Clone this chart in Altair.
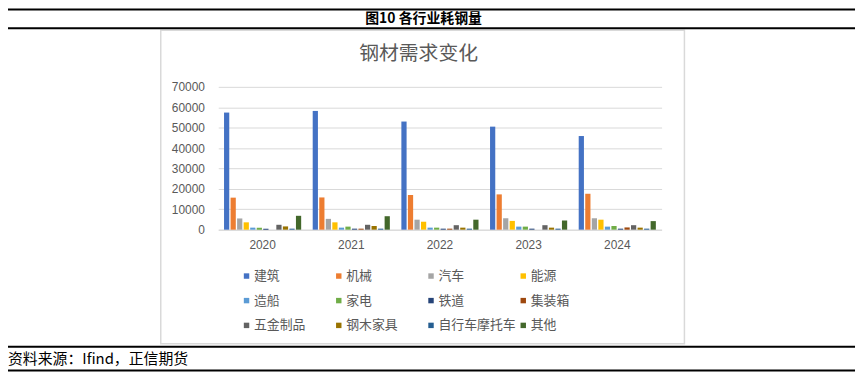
import altair as alt
import pandas as pd

years = ["2020", "2021", "2022", "2023", "2024"]
series = ["建筑", "机械", "汽车", "能源", "造船", "家电", "铁道", "集装箱",
          "五金制品", "钢木家具", "自行车摩托车", "其他"]
colors = ["#4472C4", "#ED7D31", "#A5A5A5", "#FFC000", "#5B9BD5", "#70AD47",
          "#264478", "#9E480E", "#636363", "#997300", "#255E91", "#43682B"]

v_jianzhu = [57400, 58200, 53000, 50500, 45900]
v_jixie = [15700, 15800, 17000, 17300, 17600]
v_qiche = [5500, 5300, 4900, 5600, 5600]
v_nengyuan = [3600, 3600, 3900, 4300, 4900]
v_zaochuan = [1000, 1000, 1000, 1500, 1500]
v_jiadian = [1000, 1500, 1000, 1500, 1800]
v_tiedao = [500, 500, 500, 500, 500]
v_jizhuangxiang = [0, 500, 500, 0, 1100]
v_wujin = [2400, 2400, 2200, 2200, 2200]
v_gangmu = [1600, 1800, 1000, 1000, 1000]
v_zixingche = [500, 500, 500, 500, 500]
v_qita = [6800, 6600, 4900, 4500, 4200]

all_vals = [v_jianzhu, v_jixie, v_qiche, v_nengyuan, v_zaochuan, v_jiadian,
            v_tiedao, v_jizhuangxiang, v_wujin, v_gangmu, v_zixingche, v_qita]

rows = []
for s, vals in zip(series, all_vals):
    for y, v in zip(years, vals):
        rows.append({"year": y, "series": s, "value": v})
df = pd.DataFrame(rows)

chart_title = "钢材需求变化"
header = "图10 各行业耗钢量"
source = "资料来源：Ifind，正信期货"

W, H = 447, 144
one = alt.Data(values=[{}])

box = alt.Chart(one).mark_rect(fillOpacity=0, stroke="#D9D9D9", strokeWidth=1.5).encode(
    x=alt.value(-58), x2=alt.value(470), y=alt.value(-57), y2=alt.value(259))

bars = alt.Chart(df).mark_bar().encode(
    x=alt.X("year:N", sort=years, title=None,
            scale=alt.Scale(paddingInner=0.13, paddingOuter=0.065),
            axis=alt.Axis(labelAngle=0, ticks=False, domainColor="#D9D9D9",
                          labelPadding=10, labelFontSize=12, labelColor="#595959",
                          labelFont="Liberation Sans")),
    xOffset=alt.XOffset("series:N", sort=series, scale=alt.Scale(paddingInner=0.2)),
    y=alt.Y("value:Q", title=None,
            scale=alt.Scale(domain=[0, 70000], nice=False),
            axis=alt.Axis(values=list(range(0, 70001, 10000)), format="d",
                          domain=False, ticks=False, gridColor="#D9D9D9",
                          labelPadding=14, labelFontSize=12, labelColor="#595959",
                          labelFont="Liberation Sans")),
    color=alt.Color("series:N", sort=series, title=None,
                    scale=alt.Scale(domain=series, range=colors),
                    legend=alt.Legend(orient="none", legendX=22, legendY=184,
                                      direction="horizontal",
                                      columns=4, gridAlign="all", columnPadding=0,
                                      rowPadding=11, symbolType="square", symbolSize=30,
                                      symbolStrokeWidth=0, labelOffset=1,
                                      labelFontSize=13, labelColor="#595959",
                                      labelFont="Noto Sans CJK SC", labelLimit=84,
                                      padding=0)),
)

title_txt = alt.Chart(one).mark_text(fontSize=20, color="#595959", font="Noto Sans CJK SC",
                                     baseline="middle", align="center").encode(
    x=alt.value(202), y=alt.value(-33), text=alt.value(chart_title))

header_txt = alt.Chart(one).mark_text(fontSize=14, fontWeight="bold", color="black",
                                      font="Noto Sans CJK SC", baseline="middle",
                                      align="center").encode(
    x=alt.value(207), y=alt.value(-68), text=alt.value(header))

source_txt = alt.Chart(one).mark_text(fontSize=15, color="black", font="Noto Sans CJK SC",
                                      baseline="middle", align="left").encode(
    x=alt.value(-212), y=alt.value(274), text=alt.value(source))

def hline(yv, w=2):
    return alt.Chart(one).mark_rule(color="black", strokeWidth=w).encode(
        x=alt.value(-212), x2=alt.value(642), y=alt.value(yv))

chart = alt.layer(
    box, bars, title_txt, header_txt, source_txt,
    hline(-78), hline(-59), hline(262), hline(286),
).properties(
    width=W, height=H,
    autosize=alt.AutoSizeParams(type="none"),
    padding={"left": 212, "top": 78, "right": 197, "bottom": 144},
).configure_view(stroke=None)

chart.save("out.html", embed_options={"renderer": "svg", "actions": False})
